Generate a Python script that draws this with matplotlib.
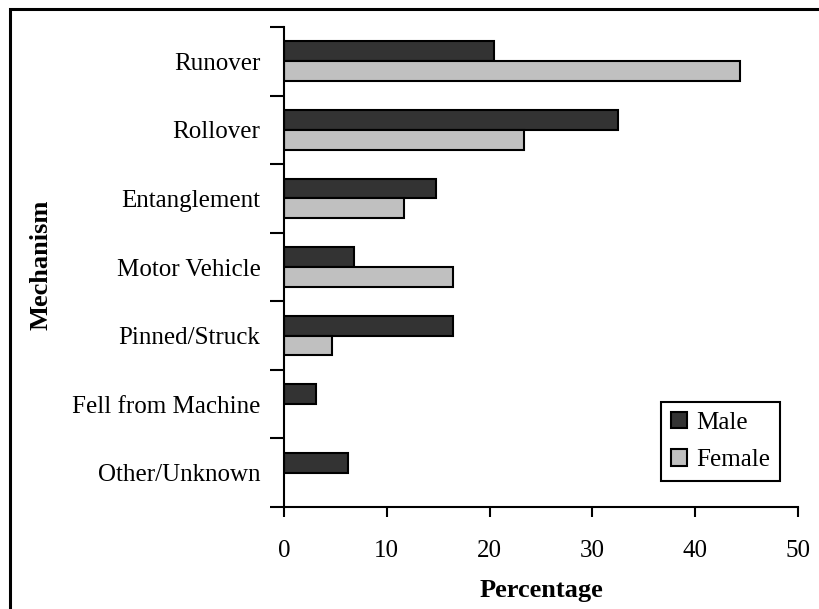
import numpy as np
import matplotlib.pyplot as plt
import matplotlib.patches as mpatches

# Daten
mechanisms = ["Runover", "Rollover", "Entanglement", "Motor Vehicle",
              "Pinned/Struck", "Fell from Machine", "Other/Unknown"]
male = [20.4, 32.5, 14.8, 6.8, 16.4, 3.1, 6.2]
female = [44.4, 23.3, 11.7, 16.4, 4.7, 0.0, 0.0]
x_ticks = [0, 10, 20, 30, 40, 50]

plt.rcParams["font.family"] = ["Liberation Serif", "DejaVu Serif"]

fig = plt.figure(figsize=(8.19, 6.09), dpi=100, facecolor="white")
ax = fig.add_axes([284 / 819, 1 - 507 / 609, (798 - 284) / 819, (507 - 27) / 609])

y = np.arange(len(mechanisms))
h = 0.29
ax.barh(y - h / 2, male, height=h, color="#333333", edgecolor="black",
        linewidth=1.5, label="Male")
female_vals = np.array(female)
ax.barh(y[female_vals > 0] + h / 2, female_vals[female_vals > 0], height=h,
        color="#c0c0c0", edgecolor="black", linewidth=1.5, label="Female")

ax.set_xlim(0, 50)
ax.set_ylim(len(mechanisms) - 0.5, -0.5)
ax.set_xticks(x_ticks)
ax.set_xticklabels([str(t) for t in x_ticks], fontsize=18)
ax.tick_params(axis="x", direction="out", length=7, width=1.5, pad=17)

# Striche an den Kategoriegrenzen, Beschriftung in der Mitte
ax.set_yticks(np.arange(-0.5, len(mechanisms) + 0.5, 1))
ax.set_yticklabels([])
ax.tick_params(axis="y", which="major", direction="out", length=10, width=1.5)
ax.set_yticks(y, minor=True)
ax.set_yticklabels(mechanisms, minor=True, fontsize=18)
ax.tick_params(axis="y", which="minor", length=0, pad=17)

for s in ["top", "right"]:
    ax.spines[s].set_visible(False)
for s in ["left", "bottom"]:
    ax.spines[s].set_linewidth(1.5)

ax.set_xlabel("Percentage", fontsize=19, fontweight="bold", labelpad=12)
fig.text(41 / 819, 1 - 265 / 609, "Mechanism", rotation=90, fontsize=19,
         fontweight="bold", ha="center", va="center")

leg = ax.legend(loc="lower right", bbox_to_anchor=(780 / 819, 1 - 481 / 609),
                bbox_transform=fig.transFigure, borderaxespad=0, fontsize=18,
                frameon=True, fancybox=False, framealpha=1,
                handlelength=0.65, handleheight=0.65, handletextpad=0.35,
                borderpad=0.4, labelspacing=0.6)
leg.get_frame().set_edgecolor("black")
leg.get_frame().set_linewidth(1.5)

# Rahmen um die Abbildung (rechts und unten abgeschnitten)
frame = mpatches.Rectangle((10 / 819, -0.1), 1.2, 1 - 9 / 609 + 0.1,
                           transform=fig.transFigure, fill=False,
                           edgecolor="black", linewidth=2.2, clip_on=False)
fig.patches.append(frame)

fig.savefig("out.png", dpi=100, facecolor="white")
